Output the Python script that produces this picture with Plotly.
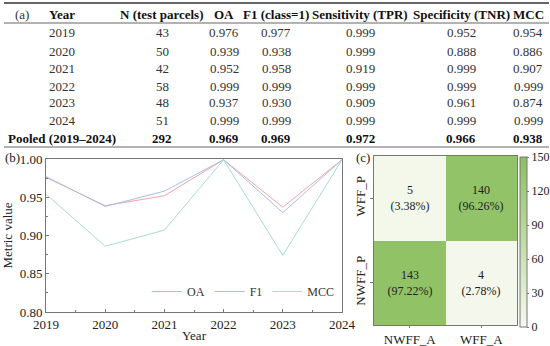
import plotly.graph_objects as go

# ---------------- data ----------------
years = [2019, 2020, 2021, 2022, 2023, 2024]
n_parcels = [43, 50, 42, 58, 48, 51]
oa = [0.976, 0.939, 0.952, 0.999, 0.937, 0.999]
f1 = [0.977, 0.938, 0.958, 0.999, 0.930, 0.999]
tpr = [0.999, 0.999, 0.919, 0.999, 0.909, 0.999]
tnr = [0.952, 0.888, 0.999, 0.999, 0.961, 0.999]
mcc = [0.954, 0.886, 0.907, 0.999, 0.874, 0.999]
pooled_label = "Pooled (2019–2024)"
pooled = [292, 0.969, 0.969, 0.972, 0.966, 0.938]
headers = ["Year", "N (test parcels)", "OA", "F1 (class=1)", "Sensitivity (TPR)", "Specificity (TNR)", "MCC"]

cm_x = ["NWFF_A", "WFF_A"]
cm_y = ["NWFF_P", "WFF_P"]
cm_z = [[143, 4], [5, 140]]
cm_pct = [["97.22%", "2.78%"], ["3.38%", "96.26%"]]

W, H = 550, 346
FONT = "Liberation Serif"

def px(x):
    return x / W

def py(y):
    return 1 - y / H

fig = go.Figure()

# ---------------- (b) line chart ----------------
series = [("OA", oa, "#f2a3ab"), ("F1", f1, "#a9bfe6"), ("MCC", mcc, "#a8dccf")]
for name, vals, col in series:
    fig.add_trace(go.Scatter(x=years, y=vals, name=name, mode="lines",
                             line=dict(color=col, width=1), xaxis="x", yaxis="y"))

# ---------------- (c) heatmap ----------------
cm_text = [[f"{cm_z[i][j]}<br>({cm_pct[i][j]})" for j in range(2)] for i in range(2)]
fig.add_trace(go.Heatmap(
    x=cm_x, y=cm_y, z=cm_z, text=cm_text, texttemplate="%{text}",
    textfont=dict(family=FONT, size=12, color="#222"),
    colorscale=[[0, "#f7faf0"], [1, "#8cbf5e"]], zmin=0, zmax=150,
    xaxis="x2", yaxis="y2", showscale=True, xgap=0, ygap=0,
    colorbar=dict(x=px(520), xanchor="left", y=py(242), yanchor="middle",
                  len=(327 - 157) / H, lenmode="fraction", thickness=7,
                  xpad=0, ypad=0,
                  outlinewidth=1, outlinecolor="#777",
                  tickvals=[0, 30, 60, 90, 120, 150], ticks="outside", ticklen=2,
                  tickcolor="#777", tickfont=dict(family=FONT, size=12, color="#222")),
))

axis_common = dict(showgrid=False, zeroline=False, showline=True, linecolor="#777",
                   linewidth=1, mirror=True, automargin=False,
                   tickfont=dict(family=FONT, size=13, color="#222"))

fig.update_layout(
    width=W, height=H, margin=dict(l=0, r=0, t=0, b=0, pad=0),
    paper_bgcolor="white", plot_bgcolor="white",
    font=dict(family=FONT, color="#222"),
    showlegend=True,
    legend=dict(orientation="h", x=px(340), xanchor="right", y=py(306), yanchor="bottom",
                bgcolor="rgba(0,0,0,0)", font=dict(family=FONT, size=12, color="#333"),
                itemwidth=30, tracegroupgap=0),
    xaxis=dict(domain=[px(46), px(342)], range=[2019, 2024], tickvals=years,
               ticks="inside", ticklen=3, tickcolor="#777",
               minor=dict(ticks="inside", dtick=0.5, ticklen=2, tickcolor="#777"),
               title=dict(text="Year", font=dict(family=FONT, size=13, color="#222"), standoff=0),
               anchor="y", **axis_common),
    yaxis=dict(domain=[py(312), py(159)], range=[0.80, 1.00], dtick=0.05, tickformat=".2f",
               ticks="inside", ticklen=3, tickcolor="#777",
               minor=dict(ticks="inside", dtick=0.025, ticklen=2, tickcolor="#777"),
               title=dict(text="Metric value", font=dict(family=FONT, size=13, color="#222"), standoff=4),
               anchor="x", **axis_common),
    xaxis2=dict(domain=[px(374), px(517)], anchor="y2", ticks="outside", ticklen=2,
                tickcolor="#777", **axis_common),
    yaxis2=dict(domain=[py(325), py(156)], anchor="x2", ticks="outside", ticklen=3,
                tickcolor="#777", tickangle=-90, **axis_common),
)

# ---------------- (a) table as text ----------------
col_x = [62, 162, 224, 276, 360, 461, 528]
header_y = 14
row_y = [33, 51, 68, 86, 103, 121]
pooled_y = 138
TS = 13

ann = []
for cx, h in zip(col_x, headers):
    ann.append(dict(x=px(cx), y=py(header_y), text=f"<b>{h}</b>", showarrow=False,
                    xref="paper", yref="paper", xanchor="center", yanchor="middle",
                    font=dict(family=FONT, size=TS, color="#111")))
ann.append(dict(x=px(22), y=py(header_y), text="(a)", showarrow=False, xref="paper", yref="paper",
                xanchor="center", yanchor="middle", font=dict(family=FONT, size=TS, color="#333")))

for i, yr in enumerate(years):
    vals = [str(yr), str(n_parcels[i]), f"{oa[i]:.3f}", f"{f1[i]:.3f}",
            f"{tpr[i]:.3f}", f"{tnr[i]:.3f}", f"{mcc[i]:.3f}"]
    for cx, v in zip(col_x, vals):
        ann.append(dict(x=px(cx), y=py(row_y[i]), text=v, showarrow=False,
                        xref="paper", yref="paper", xanchor="center", yanchor="middle",
                        font=dict(family=FONT, size=TS, color="#333")))

pvals = [pooled_label, str(pooled[0])] + [f"{v:.3f}" for v in pooled[1:]]
for cx, v in zip(col_x, pvals):
    ann.append(dict(x=px(cx), y=py(pooled_y), text=f"<b>{v}</b>", showarrow=False,
                    xref="paper", yref="paper", xanchor="center", yanchor="middle",
                    font=dict(family=FONT, size=TS, color="#111")))

# panel labels
ann.append(dict(x=px(3), y=py(158), text="(b)", showarrow=False, xref="paper", yref="paper",
                xanchor="left", yanchor="middle", font=dict(family=FONT, size=13, color="#222")))
ann.append(dict(x=px(372), y=py(157), text="(c)", showarrow=False, xref="paper", yref="paper",
                xanchor="right", yanchor="middle", font=dict(family=FONT, size=13, color="#222")))

fig.update_layout(annotations=ann)

shapes = [
    dict(type="line", xref="paper", yref="paper", x0=px(4), x1=px(549), y0=py(3), y1=py(3),
         line=dict(color="#666", width=2)),
    dict(type="line", xref="paper", yref="paper", x0=px(4), x1=px(549), y0=py(23), y1=py(23),
         line=dict(color="#666", width=1)),
    dict(type="line", xref="paper", yref="paper", x0=px(4), x1=px(549), y0=py(147), y1=py(147),
         line=dict(color="#666", width=1)),
]
fig.update_layout(shapes=shapes)

fig.write_html("out.html", config={"displayModeBar": False},
               post_script="document.body.style.margin='0';document.body.style.padding='0';")
